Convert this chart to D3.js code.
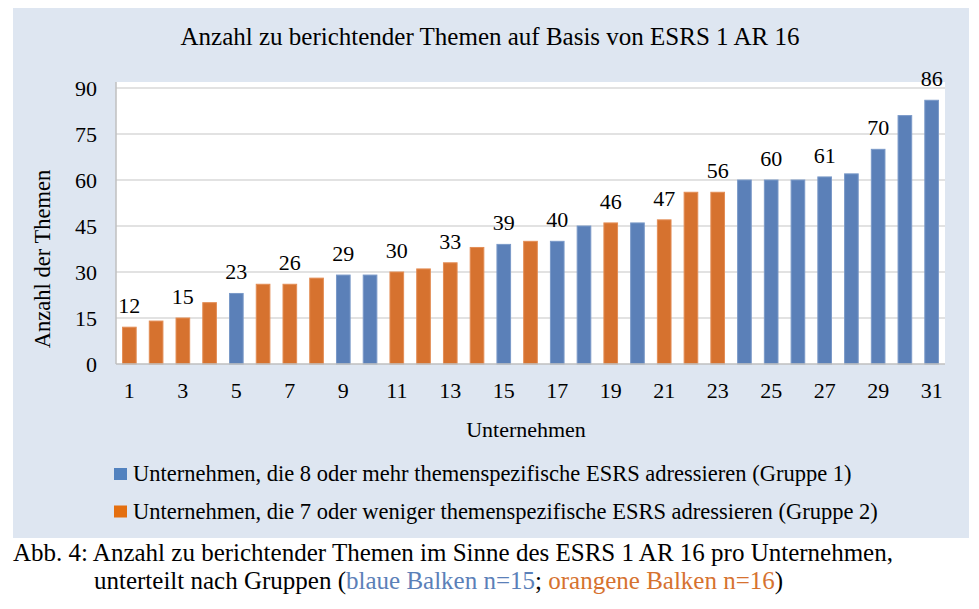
<!DOCTYPE html>
<html>
<head>
<meta charset="utf-8">
<script src="https://cdn.jsdelivr.net/npm/d3@7"></script>
<style>
  body { margin: 0; background: #ffffff; }
  svg, svg text { font-family: "Liberation Serif", "Times New Roman", serif; }
  svg { display: block; }
</style>
</head>
<body>
<div class="chart"></div>
<script>
'use strict';
// Data
var companies = d3.range(1, 32);
var values = [12, 14, 15, 20, 23, 26, 26, 28, 29, 29, 30, 31, 33, 38, 39, 40,
  40, 45, 46, 46, 47, 56, 56, 60, 60, 60, 61, 62, 70, 81, 86];
// 1 = Gruppe 1 (blue), 2 = Gruppe 2 (orange)
var groups = [2, 2, 2, 2, 1, 2, 2, 2, 1, 1, 2, 2, 2, 2, 1, 2,
  1, 1, 2, 1, 2, 2, 2, 1, 1, 1, 1, 1, 1, 1, 1];
var yTicks = [0, 15, 30, 45, 60, 75, 90];
var xTicks = [1, 3, 5, 7, 9, 11, 13, 15, 17, 19, 21, 23, 25, 27, 29, 31];
var legendLabels = [
  'Unternehmen, die 8 oder mehr themenspezifische ESRS adressieren (Gruppe 1)',
  'Unternehmen, die 7 oder weniger themenspezifische ESRS adressieren (Gruppe 2)'
];

(function() {
  // Sizes
  var w = 979;
  var h = 609;
  var left = 116;
  var right = 945;
  var plotTop = 82;
  var bottom = 364;

  var BAR = {1: '#5b80b8', 2: '#d6722f'};
  var BAR_EDGE = {1: '#7a99c8', 2: '#e38d55'};
  var MARK = {1: '#5282bf', 2: '#e46f10'};

  var data = companies.map(function(c, i) {
    return {id: c, value: values[i], group: groups[i]};
  });

  var svg = d3.select('.chart')
    .append('svg')
    .attr('width', w)
    .attr('height', h);

  // Light blue chart area
  svg.append('rect')
    .attr('x', 13).attr('y', 8)
    .attr('width', 956).attr('height', 530)
    .attr('fill', '#dee6f1');

  // Plot area
  svg.append('rect')
    .attr('x', left).attr('y', plotTop)
    .attr('width', right - left).attr('height', bottom - plotTop)
    .attr('fill', '#ffffff');

  var x = d3.scaleBand()
    .domain(companies)
    .range([left, right])
    .paddingInner(0.49)
    .paddingOuter(0.245);

  var y = d3.scaleLinear()
    .domain([0, 90])
    .range([bottom, 88]);

  // Gridlines
  svg.append('g')
    .selectAll('line')
    .data(yTicks.slice(1))
    .enter()
    .append('line')
    .attr('x1', left).attr('x2', right)
    .attr('y1', function(d) { return y(d); })
    .attr('y2', function(d) { return y(d); })
    .attr('stroke', '#d9d9d9')
    .attr('stroke-width', 1.5);

  // Y axis
  var yAxis = d3.axisLeft(y)
    .tickValues(yTicks)
    .tickSize(0)
    .tickPadding(19);
  var gy = svg.append('g')
    .attr('transform', 'translate(' + left + ',0)')
    .call(yAxis)
    .attr('font-family', null)
    .attr('font-size', 22);
  gy.select('.domain').remove();
  gy.selectAll('text').attr('fill', '#000');

  // Bars
  svg.append('g')
    .selectAll('rect')
    .data(data)
    .enter()
    .append('rect')
    .attr('x', function(d) { return x(d.id); })
    .attr('y', function(d) { return y(d.value); })
    .attr('width', x.bandwidth())
    .attr('height', function(d) { return bottom - y(d.value); })
    .attr('fill', function(d) { return BAR[d.group]; })
    .attr('stroke', function(d) { return BAR_EDGE[d.group]; })
    .attr('stroke-width', 1);

  // Axis lines
  svg.append('line')
    .attr('x1', left).attr('x2', left)
    .attr('y1', plotTop).attr('y2', bottom)
    .attr('stroke', '#bfbfbf').attr('stroke-width', 1.5);
  svg.append('line')
    .attr('x1', left).attr('x2', right)
    .attr('y1', bottom).attr('y2', bottom)
    .attr('stroke', '#bfbfbf').attr('stroke-width', 1.5);

  // X axis (odd companies only)
  var xAxis = d3.axisBottom(x)
    .tickValues(xTicks)
    .tickSize(0)
    .tickPadding(18);
  var gx = svg.append('g')
    .attr('transform', 'translate(0,' + bottom + ')')
    .call(xAxis)
    .attr('font-family', null)
    .attr('font-size', 22);
  gx.select('.domain').remove();
  gx.selectAll('text').attr('fill', '#000');

  // Data labels on odd bars
  svg.append('g')
    .selectAll('text')
    .data(data.filter(function(d) { return d.id % 2 === 1; }))
    .enter()
    .append('text')
    .attr('x', function(d) { return x(d.id) + x.bandwidth() / 2; })
    .attr('y', function(d) { return y(d.value) - 14; })
    .attr('text-anchor', 'middle')
    .attr('font-size', 22)
    .text(function(d) { return d.value; });

  // Title
  svg.append('text')
    .attr('x', 490).attr('y', 45)
    .attr('text-anchor', 'middle')
    .attr('font-size', 25)
    .text('Anzahl zu berichtender Themen auf Basis von ESRS 1 AR 16');

  // Axis titles
  svg.append('text')
    .attr('transform', 'translate(50,259) rotate(-90)')
    .attr('text-anchor', 'middle')
    .attr('font-size', 22.5)
    .text('Anzahl der Themen');
  svg.append('text')
    .attr('x', 526).attr('y', 437)
    .attr('text-anchor', 'middle')
    .attr('font-size', 22)
    .text('Unternehmen');

  // Legend
  var legend = svg.append('g')
    .selectAll('g')
    .data(legendLabels)
    .enter()
    .append('g')
    .attr('transform', function(d, i) { return 'translate(114,' + (468 + i * 37.5) + ')'; });
  legend.append('rect')
    .attr('width', 13).attr('height', 12)
    .attr('fill', function(d, i) { return MARK[i + 1]; });
  legend.append('text')
    .attr('x', 19).attr('y', 13)
    .attr('font-size', 22.5)
    .text(function(d) { return d; });

  // Caption
  svg.append('text')
    .attr('x', 13).attr('y', 561)
    .attr('font-size', 25)
    .text('Abb. 4: Anzahl zu berichtender Themen im Sinne des ESRS 1 AR 16 pro Unternehmen,');
  var cap2 = svg.append('text')
    .attr('x', 94).attr('y', 589)
    .attr('font-size', 25);
  cap2.append('tspan').text('unterteilt nach Gruppen (');
  cap2.append('tspan').attr('fill', BAR[1]).text('blaue Balken n=15');
  cap2.append('tspan').text('; ');
  cap2.append('tspan').attr('fill', BAR[2]).text('orangene Balken n=16');
  cap2.append('tspan').text(')');
})();
</script>
</body>
</html>
